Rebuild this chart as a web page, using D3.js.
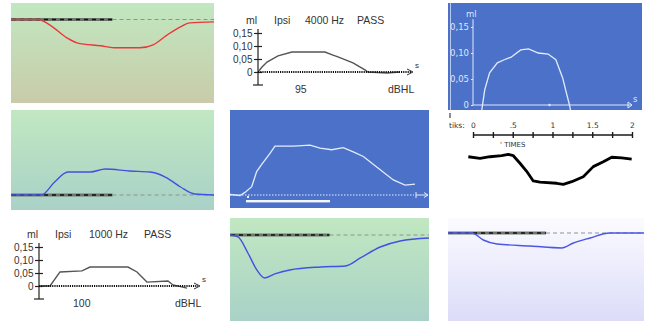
<!DOCTYPE html>
<html>
<head>
<meta charset="utf-8">
<script src="https://cdn.jsdelivr.net/npm/d3@7"></script>
<style>
  body { margin: 0; background: #fff; }
  svg { display: block; }
  text { font-family: "Liberation Sans", Arial, sans-serif; }
</style>
</head>
<body>
<svg width="652" height="321"></svg>
<script>
// ---- data (time in s, volume change in ml) ----
const stimulus = [0, 1];

// row 1, col 1 : red trace on green panel
const p1Time = [0, 0.27, 0.38, 0.55, 0.65, 0.88, 1.04, 1.27, 1.40, 1.54, 1.67, 1.76, 2.0];
const p1Vol  = [0, 0, -0.016, -0.055, -0.070, -0.079, -0.085, -0.085, -0.076, -0.046, -0.022, -0.010, -0.007];

// row 1, col 2 : printed result 4000 Hz
const p2Time = [0, 0.057, 0.128, 0.284, 0.482, 0.950, 1.064, 1.135, 1.348, 1.518, 1.560, 1.830, 2.014];
const p2Vol  = [0, 0.019, 0.038, 0.062, 0.077, 0.077, 0.065, 0.058, 0.035, 0.008, 0, -0.004, 0];

// row 1, col 3 : blue screen
const p3Time = [0.113, 0.151, 0.214, 0.314, 0.403, 0.491, 0.616, 0.717, 0.843, 0.969, 1.069, 1.157, 1.195, 1.245, 1.258];
const p3Vol  = [-0.010, 0.029, 0.062, 0.081, 0.087, 0.092, 0.106, 0.108, 0.100, 0.098, 0.087, 0.052, 0.029, 0, -0.010];

// row 2, col 1 : blue trace on green panel
const p4Time = [0, 0.30, 0.43, 0.56, 0.78, 0.93, 1.17, 1.37, 1.52, 1.67, 1.81, 2.0];
const p4Vol  = [0, 0, 0.039, 0.069, 0.069, 0.078, 0.072, 0.069, 0.054, 0.024, 0.003, 0];

// row 2, col 2 : blue screen with stimulus bar
const p5Time = [-0.202, -0.083, -0.024, 0.056, 0.115, 0.175, 0.274, 0.333, 0.551, 0.750, 0.869, 1.008, 1.146, 1.265, 1.385, 1.544, 1.742, 1.881, 2.0];
const p5Vol  = [0.001, -0.001, 0.005, 0.016, 0.045, 0.059, 0.080, 0.094, 0.094, 0.096, 0.090, 0.087, 0.091, 0.083, 0.074, 0.054, 0.029, 0.019, 0.021];

// row 2, col 3 : black printout
const p6Time = [-0.059, 0.088, 0.214, 0.361, 0.444, 0.507, 0.591, 0.675, 0.758, 0.843, 1.053, 1.136, 1.242, 1.387, 1.513, 1.639, 1.745, 1.870, 1.996];
const p6Vol  = [0.001, -0.005, 0.001, 0.005, 0.010, 0.005, -0.024, -0.055, -0.092, -0.097, -0.101, -0.105, -0.095, -0.076, -0.037, -0.018, -0.001, -0.003, -0.008];
const p6Ticks = [0, 0.25, 0.5, 0.75, 1, 1.25, 1.5, 1.75, 2];
const p6Labels = {0: "0", 0.5: ".5", 1: "1", 1.5: "1.5", 2: "2"};

// row 3, col 1 : printed result 1000 Hz
const p7Time = [0, 0.150, 0.287, 0.587, 0.697, 1.216, 1.339, 1.475, 1.762, 1.831, 2.022];
const p7Vol  = [0, 0, 0.054, 0.058, 0.073, 0.073, 0.054, 0.015, 0.019, 0.004, -0.008];

// row 3, col 2 : blue trace on green panel
const p8Time = [0, 0.08, 0.18, 0.27, 0.35, 0.45, 0.60, 0.91, 1.16, 1.31, 1.51, 1.71, 2.0];
const p8Vol  = [0, -0.006, -0.054, -0.105, -0.129, -0.117, -0.105, -0.096, -0.093, -0.069, -0.036, -0.018, -0.009];

// row 3, col 3 : blue trace on lavender panel
const p9Time = [0, 0.245, 0.36, 0.50, 0.84, 1.16, 1.28, 1.45, 1.65, 2.0];
const p9Vol  = [0, 0, -0.021, -0.033, -0.039, -0.045, -0.030, -0.015, 0, 0];

// tick labels
const volTicks = [0, 0.05, 0.10, 0.15];
const volLabels = ["0", "0,05", "0,10", "0,15"];
const p2Title = ["ml", "Ipsi", "4000 Hz", "PASS"];
const p7Title = ["ml", "Ipsi", "1000 Hz", "PASS"];
const p2Level = "95";
const p7Level = "100";
const levelUnit = "dBHL";
const timeUnit = "s";

// ---- drawing ----
const svg = d3.select("svg");
const defs = svg.append("defs");
const zip = (a, b) => a.map((d, i) => [d, b[i]]);

function background(id, box, c0, c1) {
  const g = defs.append("linearGradient").attr("id", id)
    .attr("x1", 0).attr("y1", 0).attr("x2", 0).attr("y2", 1);
  g.append("stop").attr("offset", "0%").attr("stop-color", c0);
  g.append("stop").attr("offset", "100%").attr("stop-color", c1);
  svg.append("rect")
    .attr("x", box[0]).attr("y", box[1])
    .attr("width", box[2] - box[0]).attr("height", box[3] - box[1])
    .attr("fill", c0 === c1 ? c0 : `url(#${id})`);
  defs.append("clipPath").attr("id", id + "-clip")
    .append("rect")
    .attr("x", box[0]).attr("y", box[1])
    .attr("width", box[2] - box[0]).attr("height", box[3] - box[1]);
}

// coloured reflex panels (green / lavender)
function reflexPanel(id, box, base, c0, c1, time, vol, color) {
  background(id, box, c0, c1);
  const x = d3.scaleLinear([0, 2], [box[0], box[2]]);
  const y = d3.scaleLinear([0, 0.1], [base, base - 33.3]);
  const g = svg.append("g").attr("clip-path", `url(#${id}-clip)`);

  // rest of baseline
  g.append("line")
    .attr("x1", x(stimulus[1])).attr("x2", x(2))
    .attr("y1", y(0)).attr("y2", y(0))
    .attr("stroke", "#8c948c").attr("stroke-width", 1)
    .attr("stroke-dasharray", "4,3");
  // stimulus bar
  g.append("line")
    .attr("x1", x(stimulus[0])).attr("x2", x(stimulus[1]))
    .attr("y1", y(0)).attr("y2", y(0))
    .attr("stroke", "#6d756d").attr("stroke-width", 3);
  g.append("line")
    .attr("x1", x(stimulus[0]) + 1).attr("x2", x(stimulus[1]))
    .attr("y1", y(0)).attr("y2", y(0))
    .attr("stroke", "#111").attr("stroke-width", 1.6)
    .attr("stroke-dasharray", "4,4");

  const line = d3.line()
    .x(d => x(d[0])).y(d => y(d[1]))
    .curve(d3.curveMonotoneX);
  g.append("path")
    .datum(zip(time, vol))
    .attr("d", line)
    .attr("fill", "none")
    .attr("stroke", color)
    .attr("stroke-width", 1.4);
}

// printed result panels (white)
function printPanel(ax, axEnd, zero, title, titleX, level, levelX, time, vol) {
  const x = d3.scaleLinear([0, 2.2], [ax, axEnd]);
  const y = d3.scaleLinear([0, 0.15], [zero, zero - 39]);
  const g = svg.append("g");

  const yAxis = g.append("g")
    .attr("transform", `translate(${ax},0)`)
    .call(d3.axisLeft(y)
      .tickValues(volTicks)
      .tickFormat((d, i) => volLabels[i])
      .tickSize(4)
      .tickPadding(1.5));
  yAxis.select(".domain").remove();
  yAxis.selectAll(".tick line").attr("x1", 4).attr("stroke", "#222").attr("stroke-width", 1.2);
  yAxis.selectAll(".tick text")
    .attr("fill", "#333")
    .style("font-family", "'Liberation Sans', sans-serif")
    .style("font-size", "10px");

  // vertical axis line incl. part below zero
  g.append("line")
    .attr("x1", ax).attr("x2", ax)
    .attr("y1", y(0.165)).attr("y2", y(-0.05))
    .attr("stroke", "#222").attr("stroke-width", 1.2);
  g.append("line")
    .attr("x1", ax - 5).attr("x2", ax + 5)
    .attr("y1", y(-0.05)).attr("y2", y(-0.05))
    .attr("stroke", "#222").attr("stroke-width", 1.2);

  // trace
  g.append("path")
    .datum(zip(time, vol))
    .attr("d", d3.line().x(d => x(d[0])).y(d => y(d[1])))
    .attr("fill", "none")
    .attr("stroke", "#555")
    .attr("stroke-width", 1.4);

  // dotted zero line with arrow
  g.append("line")
    .attr("x1", ax).attr("x2", x(2.2) - 2)
    .attr("y1", y(0)).attr("y2", y(0))
    .attr("stroke", "#111").attr("stroke-width", 2)
    .attr("stroke-dasharray", "1.2,1");
  g.append("path")
    .attr("d", `M${x(2.2) - 6},${y(0) - 3}L${x(2.2)},${y(0)}L${x(2.2) - 6},${y(0) + 3}`)
    .attr("fill", "none").attr("stroke", "#333").attr("stroke-width", 1);
  g.append("text")
    .attr("x", x(2.2) + 2).attr("y", y(0) - 4)
    .attr("fill", "#333").style("font-size", "8px")
    .text(timeUnit);

  // header
  g.selectAll(".title")
    .data(title)
    .join("text")
    .attr("x", (d, i) => titleX[i])
    .attr("y", zero - 48)
    .attr("fill", "#333")
    .style("font-size", "10.5px")
    .text(d => d);

  g.append("text")
    .attr("x", levelX[0]).attr("y", zero + 21)
    .attr("fill", "#333").style("font-size", "10.5px")
    .text(level);
  g.append("text")
    .attr("x", levelX[1]).attr("y", zero + 21)
    .attr("fill", "#333").style("font-size", "10.5px")
    .text(levelUnit);
}

// ---------- row 1 ----------
reflexPanel("p1", [11, 3, 214, 103], 19.5, "#c1e8c1", "#c9cba9", p1Time, p1Vol, "#e8383a");

printPanel(258, 413, 72, p2Title, [246, 274, 305, 357], p2Level, [295, 388], p2Time, p2Vol);

// blue screen (top right)
(function () {
  const box = [448, 3, 642, 110];
  background("p3", box, "#4b72c8", "#4b72c8");
  const x = d3.scaleLinear([0, 2], [473, 628]);
  const y = d3.scaleLinear([0, 0.15], [105, 27]);
  const light = "#dfe7f8";
  const g = svg.append("g");

  g.append("line")
    .attr("x1", 450.5).attr("x2", 450.5).attr("y1", box[1]).attr("y2", box[3])
    .attr("stroke", "#b9c9ee").attr("stroke-width", 1);

  const yAxis = g.append("g")
    .attr("transform", "translate(473,0)")
    .call(d3.axisLeft(y).tickValues(volTicks)
      .tickFormat((d, i) => volLabels[i])
      .tickSize(2).tickPadding(2));
  yAxis.select(".domain").remove();
  yAxis.selectAll(".tick line").attr("stroke", light);
  yAxis.selectAll(".tick text")
    .attr("fill", light)
    .style("font-family", "'DejaVu Sans', sans-serif")
    .style("font-size", "8.5px");
  g.append("line")
    .attr("x1", 473).attr("x2", 473).attr("y1", y(0.165)).attr("y2", y(0))
    .attr("stroke", light).attr("stroke-width", 1);
  g.append("text")
    .attr("x", 466).attr("y", 17)
    .attr("fill", light).style("font-family", "'DejaVu Sans', sans-serif")
    .style("font-size", "8.5px").text("ml");

  // time axis
  g.append("line")
    .attr("x1", 473).attr("x2", x(2) + 4).attr("y1", y(0)).attr("y2", y(0))
    .attr("stroke", light).attr("stroke-width", 1);
  g.append("circle").attr("cx", x(1) - 1).attr("cy", y(0)).attr("r", 1.2).attr("fill", light);
  g.append("line")
    .attr("x1", x(2)).attr("x2", x(2)).attr("y1", y(0) - 3).attr("y2", y(0) + 3)
    .attr("stroke", light);
  g.append("path")
    .attr("d", `M${x(2)},${y(0) - 3}L${x(2) + 4},${y(0)}L${x(2)},${y(0) + 3}`)
    .attr("fill", "none").attr("stroke", light);
  g.append("text")
    .attr("x", x(2) + 5).attr("y", y(0) - 3)
    .attr("fill", light).style("font-family", "'DejaVu Sans', sans-serif")
    .style("font-size", "8.5px").text(timeUnit);

  svg.append("g").attr("clip-path", "url(#p3-clip)")
    .append("path")
    .datum(zip(p3Time, p3Vol))
    .attr("d", d3.line().x(d => x(d[0])).y(d => y(d[1])))
    .attr("fill", "none")
    .attr("stroke", "#e4ebfa")
    .attr("stroke-width", 1.3);
})();

// ---------- row 2 ----------
reflexPanel("p4", [11, 110, 214, 210], 195, "#c1e8c1", "#a9d1c7", p4Time, p4Vol, "#4152e0");

// blue screen with stimulus bar
(function () {
  const box = [230, 110, 429, 208];
  background("p5", box, "#4b72c8", "#4b72c8");
  const x = d3.scaleLinear([0, 2], [247, 415]);
  const y = d3.scaleLinear([0, 0.15], [195, 117]);
  const light = "#e4ebfa";
  const g = svg.append("g").attr("clip-path", "url(#p5-clip)");

  g.append("line")
    .attr("x1", box[0]).attr("x2", x(2) - 1).attr("y1", y(0)).attr("y2", y(0))
    .attr("stroke", light).attr("stroke-width", 1)
    .attr("stroke-dasharray", "1.5,1.5");
  g.append("line")
    .attr("x1", x(2) + 1).attr("x2", x(2) + 1).attr("y1", y(0) - 3).attr("y2", y(0) + 3)
    .attr("stroke", light);
  g.append("line")
    .attr("x1", x(2) + 1).attr("x2", box[2] - 1).attr("y1", y(0)).attr("y2", y(0))
    .attr("stroke", light);
  g.append("path")
    .attr("d", `M${box[2] - 5},${y(0) - 2.5}L${box[2] - 1},${y(0)}L${box[2] - 5},${y(0) + 2.5}`)
    .attr("fill", "none").attr("stroke", light);
  g.append("rect")
    .attr("x", x(0)).attr("y", y(0) + 1).attr("width", 2).attr("height", 2)
    .attr("fill", light);

  // stimulus bar
  g.append("rect")
    .attr("x", x(stimulus[0]) - 1).attr("y", y(0) + 5)
    .attr("width", x(stimulus[1]) - x(stimulus[0]))
    .attr("height", 2.4)
    .attr("fill", "#f4f7ff");

  g.append("path")
    .datum(zip(p5Time, p5Vol))
    .attr("d", d3.line().x(d => x(d[0])).y(d => y(d[1])))
    .attr("fill", "none")
    .attr("stroke", light)
    .attr("stroke-width", 1.3);
})();

// black printout
(function () {
  const x = d3.scaleLinear([0, 2], [473, 632]);
  const y = d3.scaleLinear([0, -0.1], [157, 183]);
  const g = svg.append("g");
  const ink = "#1a1a1a";

  g.append("line")
    .attr("x1", 450).attr("x2", 450).attr("y1", 113).attr("y2", 118)
    .attr("stroke", ink).attr("stroke-width", 1);
  g.append("text")
    .attr("x", 449).attr("y", 127.5)
    .attr("fill", "#333").style("font-family", "'DejaVu Sans', sans-serif")
    .style("font-size", "7.5px")
    .text("tiks:");

  const axis = g.append("g")
    .attr("transform", "translate(0,135)")
    .call(d3.axisTop(x).tickValues(p6Ticks)
      .tickFormat(d => p6Labels[d] || "")
      .tickSize(3).tickPadding(4.5));
  axis.select(".domain").attr("stroke", ink).attr("stroke-width", 1.5)
    .attr("d", `M${x(0)},0H${x(2)}`);
  axis.selectAll(".tick line").attr("y1", 3).attr("stroke", ink).attr("stroke-width", 1.4);
  axis.selectAll(".tick text")
    .attr("fill", "#333")
    .style("font-family", "'DejaVu Sans', sans-serif")
    .style("font-size", "7.5px");

  g.append("text")
    .attr("x", 500).attr("y", 146.5)
    .attr("fill", "#333").style("font-family", "'DejaVu Sans', sans-serif")
    .style("font-size", "7px")
    .text("' TIMES");

  g.append("path")
    .datum(zip(p6Time, p6Vol))
    .attr("d", d3.line().x(d => x(d[0])).y(d => y(d[1])))
    .attr("fill", "none")
    .attr("stroke", "#000")
    .attr("stroke-width", 2.8)
    .attr("stroke-linejoin", "round");
})();

// ---------- row 3 ----------
printPanel(39, 200, 286, p7Title, [27, 55, 89, 144], p7Level, [73, 175], p7Time, p7Vol);

reflexPanel("p8", [230, 218, 429, 321], 235, "#c1e8c1", "#a9d1c7", p8Time, p8Vol, "#4152e0");

reflexPanel("p9", [448, 218, 644, 321], 233, "#fbfbff", "#dcdcf9", p9Time, p9Vol, "#4c55e4");
</script>
</body>
</html>
